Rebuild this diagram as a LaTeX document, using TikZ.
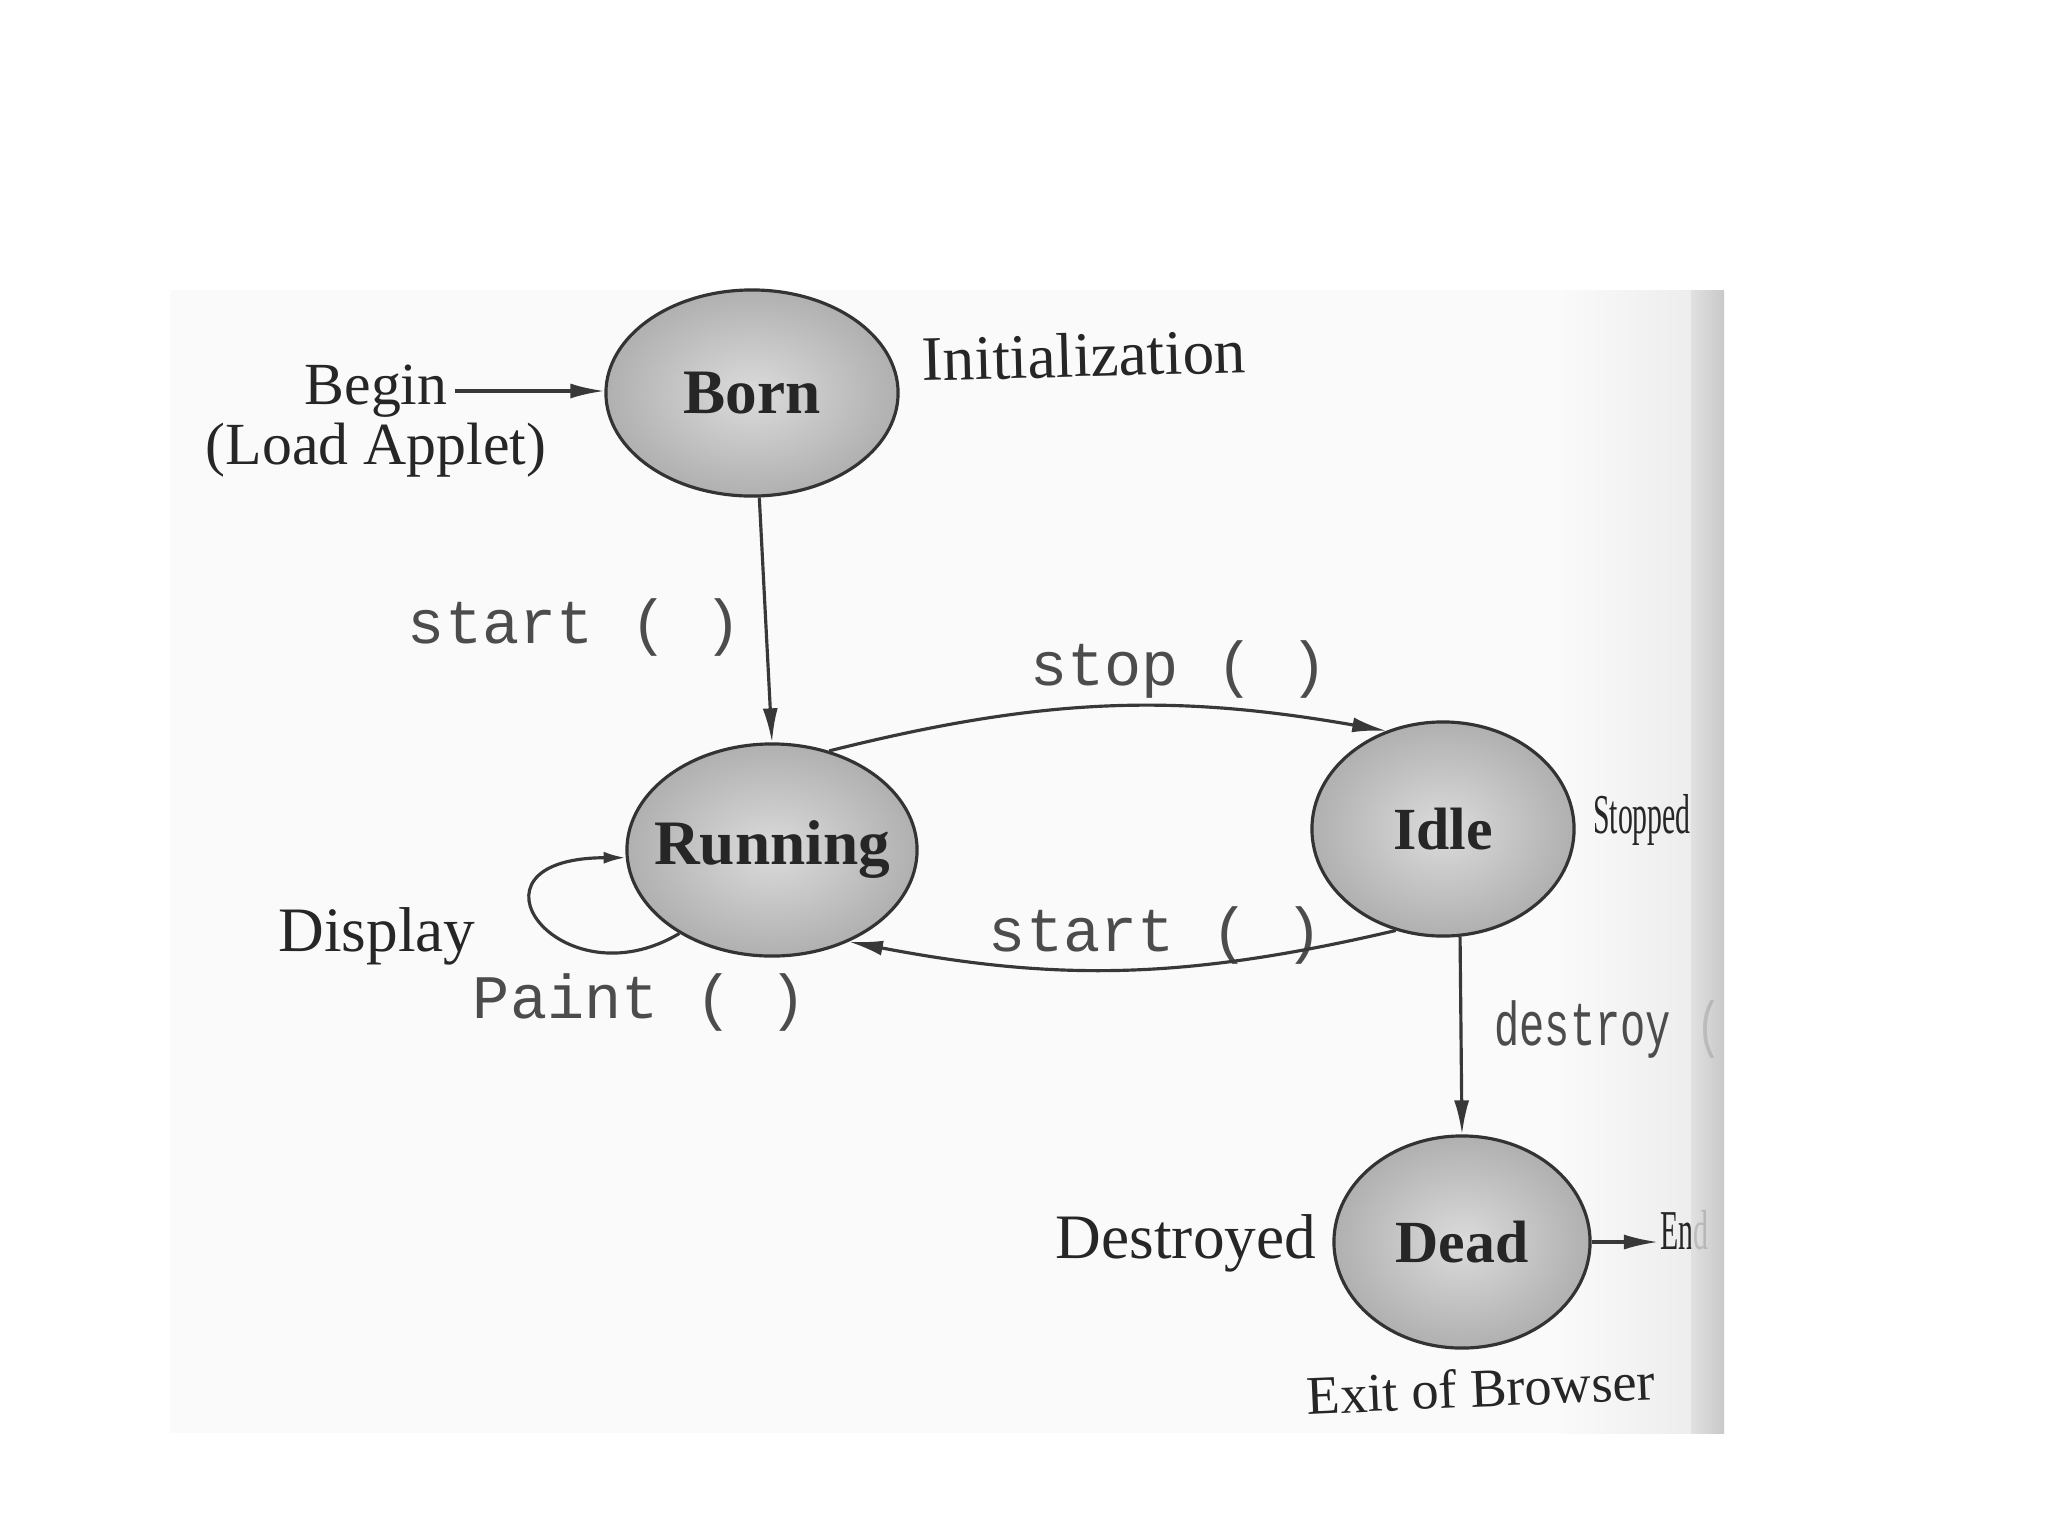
\documentclass[tikz,border=0pt]{standalone}
\usepackage{fontspec}
\setmainfont{Liberation Serif}
\newfontfamily\monof{Liberation Mono}
\usetikzlibrary{shapes.geometric,arrows.meta}
\tikzset{
  state/.style={ellipse, draw=black!80, line width=0.9pt, inner sep=-6pt,
    inner color=gray!28, outer color=gray!62, text=black!85,
    font=\fontsize{18}{20}\selectfont\bfseries},
  lbl/.style={text=black!85, font=\fontsize{18}{20}\selectfont, inner sep=2pt},
  code/.style={text=black!70, font=\monof\fontsize{17.6}{20}\selectfont, inner sep=2pt},
  squeezed/.style={text=black!85, font=\fontsize{16}{18}\selectfont, xscale=0.53, inner sep=1pt},
  arr/.style={draw=black!78, line width=0.9pt, -{Latex[length=0.34cm,width=0.15cm]}},
  loopArr/.style={draw=black!78, line width=0.9pt, -{Latex[length=0.22cm,width=0.12cm]}},
}
\begin{document}
\begin{tikzpicture}[x=0.01cm, y=-0.01cm]
\useasboundingbox (0,0) rectangle (2048,1536);
% scanned page background
\fill[gray!4] (170,290) rectangle (1691,1433);
\shade[left color=gray!4, right color=gray!14] (1560,290) rectangle (1691,1433);

% states
\node[state, minimum width=2.92cm, minimum height=2.06cm] (born) at (752,393) {Born};
\node[state, minimum width=2.9cm, minimum height=2.12cm] (running) at (772,850) {Running};
\node[state, minimum width=2.62cm, minimum height=2.14cm, font=\fontsize{17}{19}\selectfont\bfseries] (idle) at (1443,829) {Idle};
\node[state, minimum width=2.56cm, minimum height=2.12cm, font=\fontsize{17}{19}\selectfont\bfseries] (dead) at (1462,1242) {Dead};

% labels
\node[lbl, font=\fontsize{17}{19}\selectfont] (begin) at (376,391) {Begin};
\node[lbl, font=\fontsize{17}{19}\selectfont] (load) at (376,450) {(Load Applet)};
\node[lbl, rotate=1.5] (init) at (1084,355) {Initialization};
\node[code] (start1) at (575,627) {start ( )};
\node[code] (stop) at (1179,669) {stop ( )};
\node[code] (start2) at (1156,935) {start ( )};
\node[lbl] (display) at (377,936) {Display};
\node[code] (paint) at (640,1002) {Paint ( )};
\node[squeezed] (stopped) at (1642,820) {Stopped};
\node[code, anchor=west, xscale=0.68] (destroy) at (1489,1029) {destroy (};
\node[lbl] (destroyed) at (1186,1243) {Destroyed};
\node[squeezed, anchor=west] (endlbl) at (1658,1230) {End};
\node[lbl, rotate=2.5, font=\fontsize{15.5}{18}\selectfont] (exit) at (1481,1388) {Exit of Browser};

% connectors
\draw[arr] (begin.east) -- (begin.east -| born.west);
\draw[arr] (born.274) -- (running.north);
\draw[arr] (running.60) to[bend left=12] (idle.120);
\draw[arr] (idle.245) to[bend left=12] (running.310);
\draw[loopArr] (running.222) .. controls (560,1005) and (450,858) .. (running.183);
\draw[arr] (idle.279) -- (dead.north);
\draw[arr] (dead.east) -- (dead.east -| endlbl.west);

% binding strip
\shade[left color=gray!28, right color=gray!50, opacity=0.85] (1691,290) rectangle (1724,1433);
\end{tikzpicture}
\end{document}
